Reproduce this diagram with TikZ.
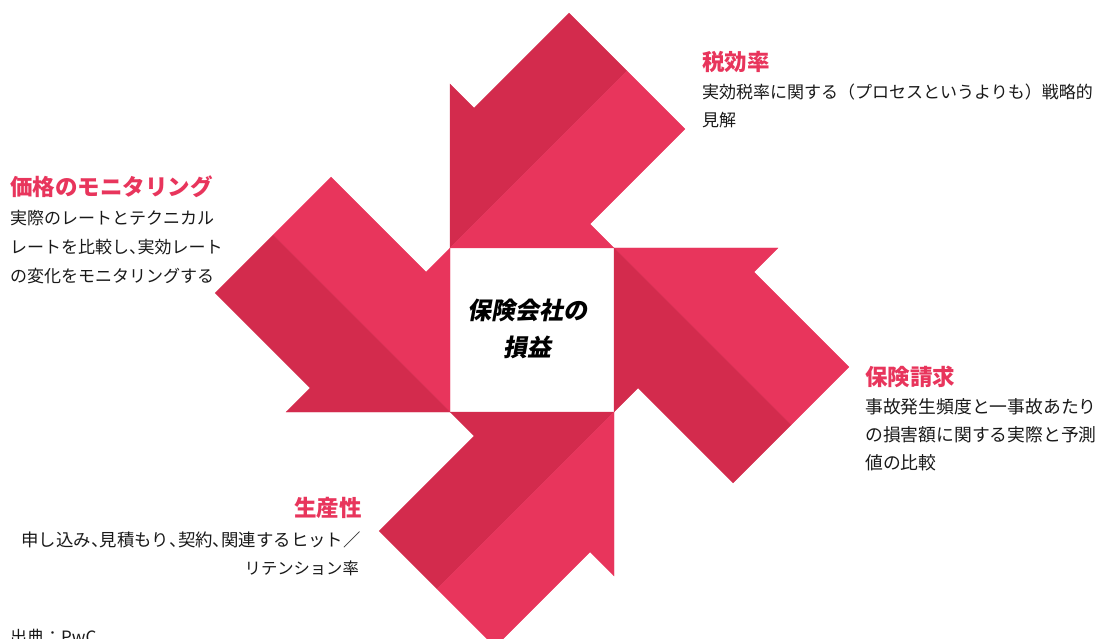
\documentclass[tikz,border=0pt]{standalone}
\usepackage{fontspec}
\newfontfamily\jp{Noto Sans CJK JP}
\newfontfamily\jpsl{Noto Sans CJK JP}[FakeSlant=0.18]
\newcommand\halften{\makebox[0.5em][l]{、}}
\definecolor{arrowdark}{RGB}{211,43,77}
\definecolor{arrowlight}{RGB}{232,53,92}
\definecolor{headpink}{RGB}{232,53,92}
\definecolor{textdark}{RGB}{25,25,25}
\tikzset{
  darkpart/.style={fill=arrowdark, draw=arrowdark, line width=0.3pt, line join=miter},
  lightpart/.style={fill=arrowlight, draw=arrowlight, line width=0.3pt, line join=miter},
  head/.style={font=\jp\bfseries\fontsize{22.5}{27}\selectfont, text=headpink, inner sep=0pt},
  body/.style={font=\jp\fontsize{17}{28}\selectfont, text=textdark, inner sep=0pt},
}
\begin{document}
\begin{tikzpicture}[x=1pt,y=-1pt]
\useasboundingbox (0,0) rectangle (1104,639);
\begin{scope}
\clip (0,0) rectangle (1104,639);
% top arrow
\path[darkpart]  (450,248) -- (450,84) -- (474,108) -- (569,13) -- (627,71) -- cycle;
\path[lightpart] (450,248) -- (627,71) -- (685,129) -- (590,224) -- (614,248) -- cycle;
% right arrow
\path[lightpart] (614,248) -- (778,248) -- (754,272) -- (849,367) -- (791,425) -- cycle;
\path[darkpart]  (614,248) -- (791,425) -- (733,483) -- (638,388) -- (614,412) -- cycle;
% bottom arrow
\path[darkpart]  (614,412) -- (450,412) -- (474,436) -- (379,531) -- (437,589) -- cycle;
\path[lightpart] (614,412) -- (437,589) -- (495,647) -- (590,552) -- (614,576) -- cycle;
% left arrow
\path[lightpart] (450,412) -- (450,248) -- (426,272) -- (331,177) -- (273,235) -- cycle;
\path[darkpart]  (450,412) -- (273,235) -- (215,293) -- (310,388) -- (286,412) -- cycle;
\end{scope}
% centre square
\fill[white] (451,249) rectangle (613,411);
\node[font=\jpsl\bfseries\fontsize{24}{37}\selectfont, align=center, inner sep=0pt] (core) at (527,328.5) {保険会社の\\損益};
% top right block
\node[head, anchor=west] (h1) at (702,62) {税効率};
\node[body, anchor=west] (b1a) at (702,92) {実効税率に関する（プロセスというよりも）戦略的};
\node[body, anchor=west] (b1b) at (702,120) {見解};
% left block
\node[head, anchor=west] (h2) at (10,187) {価格のモニタリング};
\node[body, anchor=west] (b2a) at (10,218) {実際のレートとテクニカル};
\node[body, anchor=west] (b2b) at (10,247) {レートを比較し\halften 実効レート};
\node[body, anchor=west] (b2c) at (10,276) {の変化をモニタリングする};
% right block
\node[head, anchor=west] (h3) at (865,377) {保険請求};
\node[body, anchor=west, font=\jp\fontsize{17.8}{28}\selectfont] (b3a) at (865,407) {事故発生頻度と一事故あたり};
\node[body, anchor=west, font=\jp\fontsize{17.8}{28}\selectfont] (b3b) at (865,435) {の損害額に関する実際と予測};
\node[body, anchor=west, font=\jp\fontsize{17.8}{28}\selectfont] (b3c) at (865,463) {値の比較};
% bottom left block
\node[head, anchor=east] (h4) at (362,508) {生産性};
\node[body, anchor=east, font=\jp\fontsize{17.4}{28}\selectfont] (b4a) at (361,540) {申し込み\halften 見積もり\halften 契約\halften 関連するヒット／};
\node[body, anchor=east, font=\jp\fontsize{16.3}{28}\selectfont] (b4b) at (359,568) {リテンション率};
% source
\node[body, anchor=west] (src) at (10,637) {出典：PwC};
\end{tikzpicture}
\end{document}
